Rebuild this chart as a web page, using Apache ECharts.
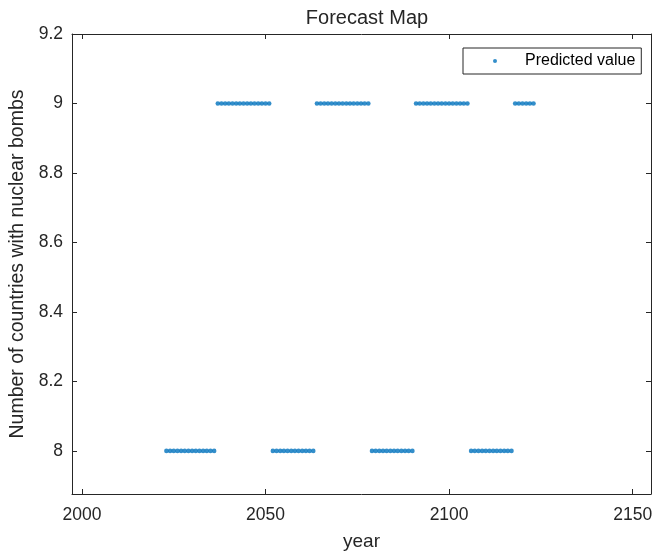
<!DOCTYPE html>
<html>
<head>
<meta charset="utf-8">
<script src="https://cdn.jsdelivr.net/npm/echarts@6/dist/echarts.min.js"></script>
<style>
html,body{margin:0;padding:0;background:#fff;}
#chart{width:652px;height:552px;}
</style>
</head>
<body>
<div id="chart"></div>
<script>
// Data
const years = [
  2023,2024,2025,2026,2027,2028,2029,2030,2031,2032,2033,2034,2035,2036,
  2037,2038,2039,2040,2041,2042,2043,2044,2045,2046,2047,2048,2049,2050,2051,
  2052,2053,2054,2055,2056,2057,2058,2059,2060,2061,2062,2063,
  2064,2065,2066,2067,2068,2069,2070,2071,2072,2073,2074,2075,2076,2077,2078,
  2079,2080,2081,2082,2083,2084,2085,2086,2087,2088,2089,2090,
  2091,2092,2093,2094,2095,2096,2097,2098,2099,2100,2101,2102,2103,2104,2105,
  2106,2107,2108,2109,2110,2111,2112,2113,2114,2115,2116,2117,
  2118,2119,2120,2121,2122,2123
];
const predicted = [
  8,8,8,8,8,8,8,8,8,8,8,8,8,8,
  9,9,9,9,9,9,9,9,9,9,9,9,9,9,9,
  8,8,8,8,8,8,8,8,8,8,8,8,
  9,9,9,9,9,9,9,9,9,9,9,9,9,9,9,
  8,8,8,8,8,8,8,8,8,8,8,8,
  9,9,9,9,9,9,9,9,9,9,9,9,9,9,9,
  8,8,8,8,8,8,8,8,8,8,8,8,
  9,9,9,9,9,9
];
const xTicks = [2000, 2050, 2100, 2150];
const yTicks = [8, 8.2, 8.4, 8.6, 8.8, 9, 9.2];
const xRange = [1997.28, 2155.0];
const yRange = [7.876, 9.2];

const FONT = '"Liberation Sans", Arial, Helvetica, sans-serif';
const AX = '#262626';

const chart = echarts.init(document.getElementById('chart'), null, {renderer: 'canvas'});
const pairs = years.map((y, i) => [y, predicted[i]]);

function xAxisCfg(pos, showLabel, name) {
  return {
    type: 'value', position: pos, min: xRange[0], max: xRange[1],
    name: name, nameLocation: 'middle', nameGap: 38,
    nameTextStyle: {fontFamily: FONT, fontSize: 19, color: AX},
    axisLine: {show: true, onZero: false, lineStyle: {color: AX, width: 1}},
    axisTick: {show: true, inside: true, length: 5, customValues: xTicks, lineStyle: {color: AX}},
    axisLabel: {show: showLabel, customValues: xTicks, margin: 12, fontFamily: FONT, fontSize: 17.5, color: AX,
      formatter: v => String(Math.round(v))},
    splitLine: {show: false}
  };
}
function yAxisCfg(pos, showLabel, name) {
  return {
    type: 'value', position: pos, min: yRange[0], max: yRange[1],
    name: name, nameLocation: 'middle', nameGap: 37, nameRotate: 90,
    nameTextStyle: {fontFamily: FONT, fontSize: 19.5, color: AX},
    axisLine: {show: true, onZero: false, lineStyle: {color: AX, width: 1}},
    axisTick: {show: true, inside: true, length: 5, customValues: yTicks, lineStyle: {color: AX}},
    axisLabel: {show: showLabel, customValues: yTicks, margin: 9, fontFamily: FONT, fontSize: 17.5, color: AX,
      formatter: v => String(Math.round(v * 10) / 10)},
    splitLine: {show: false}
  };
}

chart.setOption({
  animation: false,
  backgroundColor: '#ffffff',
  title: {
    text: 'Forecast Map', left: 362, top: 3, textAlign: 'center',
    textStyle: {fontFamily: FONT, fontSize: 20, fontWeight: 'normal', color: AX}
  },
  legend: {
    left: 463, top: 48,
    padding: [5, 6, 5, 30],
    backgroundColor: '#ffffff',
    borderColor: AX, borderWidth: 1,
    itemWidth: 4, itemHeight: 4, itemGap: 5,
    icon: 'circle',
    textStyle: {fontFamily: FONT, fontSize: 16, color: '#000', padding: [0, 0, 0, 23]},
    data: ['Predicted value']
  },
  grid: {left: 72, right: 1, top: 34, bottom: 58, containLabel: false, outerBoundsMode: 'none'},
  xAxis: [xAxisCfg('bottom', true, 'year'), xAxisCfg('top', false, '')],
  yAxis: [yAxisCfg('left', true, 'Number of countries with nuclear bombs'), yAxisCfg('right', false, '')],
  series: [{
    name: 'Predicted value',
    type: 'scatter',
    xAxisIndex: 0, yAxisIndex: 0,
    symbol: 'circle', symbolSize: 4.6,
    itemStyle: {color: '#0072BD'},
    data: pairs
  }]
});
</script>
</body>
</html>
